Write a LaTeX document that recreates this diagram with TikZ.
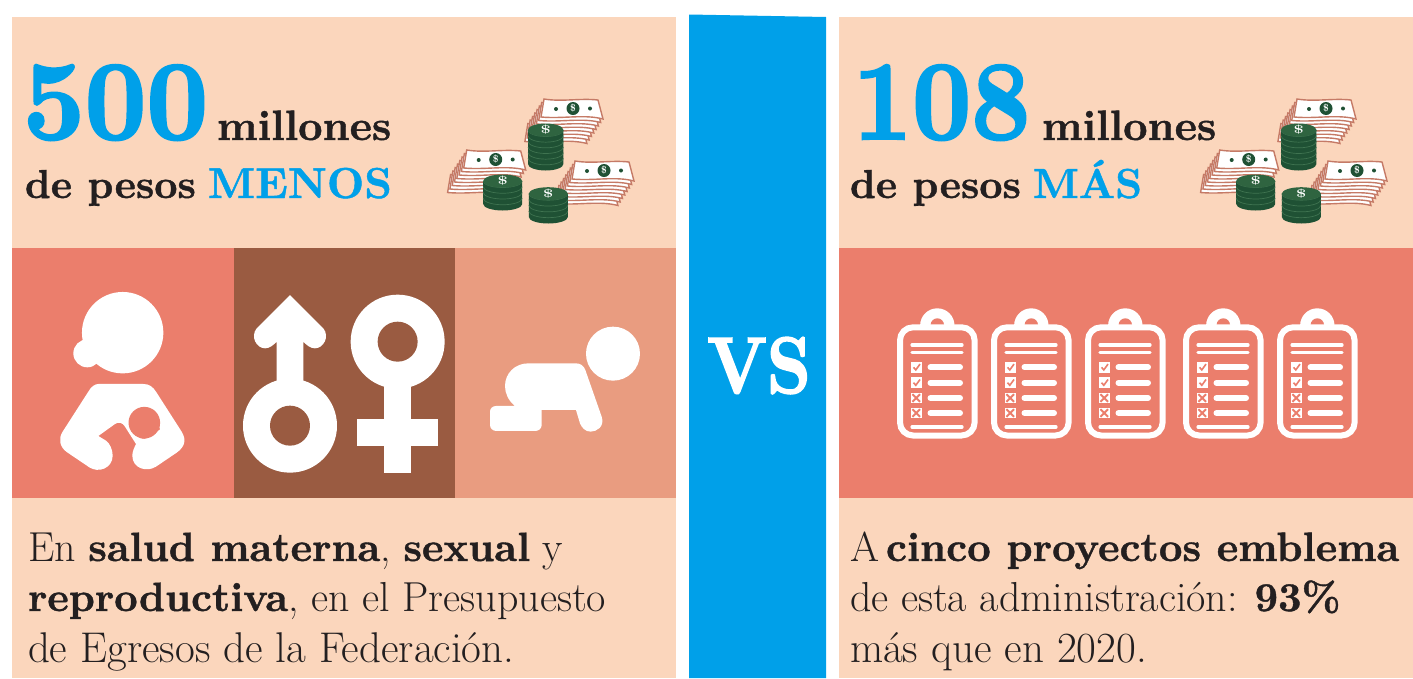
\documentclass[tikz,border=0pt]{standalone}
\usepackage{fontspec}
\newfontface\heavy{lmroman10-bold}[Extension=.otf,FakeBold=2.2]
\newfontface\semi{lmroman10-bold}[Extension=.otf,FakeBold=1.0]
\newcommand{\hb}[1]{{\fontsize{40.8}{42}\semi #1}}
\definecolor{peach}{HTML}{FBD6BC}
\definecolor{salmon}{HTML}{EB7E6C}
\definecolor{brownp}{HTML}{9A5B41}
\definecolor{tanp}{HTML}{E99C80}
\definecolor{bluep}{HTML}{00A0E9}
\definecolor{ink}{HTML}{231F20}
\definecolor{billline}{HTML}{C57A66}
\definecolor{gdark}{HTML}{1F5134}
\definecolor{gtop}{HTML}{2F6440}
\definecolor{gline}{HTML}{3F7350}
\tikzset{
  panel/.style={fill=peach,draw=none},
  bigtxt/.style={anchor=base west,inner sep=0pt,outer sep=0pt,text=bluep,font=\fontsize{113}{113}\heavy},
  headtxt/.style={anchor=base west,inner sep=0pt,outer sep=0pt,text=ink,font=\fontsize{42.4}{43}\semi},
  bodytxt/.style={anchor=base west,inner sep=0pt,outer sep=0pt,text=ink,font=\fontsize{41.9}{42}\selectfont},
  vstxt/.style={anchor=base,inner sep=0pt,outer sep=0pt,text=white,font=\fontsize{80}{80}\heavy},
}
\newcommand{\billstack}[2]{%
  \begin{scope}[shift={(#1,#2)}]
    \foreach \k in {7,6,...,0}{
      \begin{scope}[shift={(-2.3*\k,3.5*\k)}]
        \filldraw[fill=white,draw=billline,line width=1.4pt] (0,0) .. controls (18,3) and (36,-1) .. (54,1) -- (59,20) .. controls (40,15) and (20,20) .. (-3,18) -- cycle;
      \end{scope}
    }
    \fill[gdark] (29,9.5) ellipse (6.5 and 6.5);
    \fill[gdark] (12,10) circle (2);
    \fill[gdark] (46,9.5) circle (2);
    \node[inner sep=0pt,text=white,font=\fontsize{10}{10}\selectfont\bfseries] at (29,9.5) {\$};
  \end{scope}}
\newcommand{\coinstack}[5]{% cx topy rx bottomy layers
  \fill[gdark] (#1-#3,#2) -- (#1-#3,#4) arc[start angle=180,end angle=0,x radius=#3,y radius=6.5] -- (#1+#3,#2) -- cycle;
  \pgfmathsetmacro{\dy}{(#4-#2)/#5}
  \foreach \k in {1,...,#5}{
    \draw[gline,line width=.7pt] (#1-#3,#2+\k*\dy-\dy) arc[start angle=180,end angle=0,x radius=#3,y radius=6.5];
  }
  \fill[gtop] (#1,#2) ellipse (#3 and 6.5);
  \node[inner sep=0pt,text=white,font=\fontsize{14}{14}\selectfont\bfseries] at (#1,#2) {\scalebox{1.3}[.8]{\$}};
}
\newcommand{\money}[1]{%
  \begin{scope}[xshift=#1]
    \billstack{544}{99}
    \billstack{575}{161}
    \billstack{466.7}{150}
    \coinstack{545.7}{130}{17.7}{164}{6}
    \coinstack{502.7}{181}{19.5}{204}{4}
    \coinstack{548.3}{193.7}{19.5}{217}{4}
  \end{scope}}
\newcommand{\clipboard}[1]{%
  \begin{scope}[shift={(#1,0)}]
    \fill[white] (40.3,325.5) circle (17.2);
    \fill[salmon] (33.6,325) arc[start angle=180,end angle=360,radius=6.7] -- cycle;
    \filldraw[fill=salmon,draw=white,line width=6pt,rounded corners=13pt] (3,327.3) rectangle (77.6,435.5);
    \foreach \yy in {345,352.5,427}{
      \draw[white,line width=3.2pt,line cap=round] (15,\yy) -- (65,\yy);
    }
    \foreach \yy in {367.3,382.7,398,413}{
      \fill[white] (14,\yy-5.3) rectangle (24.7,\yy+5.3);
      \draw[white,line width=6pt,line cap=round] (33.5,\yy) -- (63,\yy);
    }
    \foreach \yy in {367.3,382.7}{
      \draw[salmon,line width=1.6pt] (16.5,\yy) -- (18.8,\yy+2.6) -- (23,\yy-3.2);
    }
    \foreach \yy in {398,413}{
      \draw[salmon,line width=2pt] (15.5,\yy-3.8) -- (23,\yy+3.8) (15.5,\yy+3.8) -- (23,\yy-3.8);
    }
  \end{scope}}
\begin{document}
\begin{tikzpicture}[x=1pt,y=-1pt]
\useasboundingbox (0,0) rectangle (1413,678);
\fill[white] (0,0) rectangle (1413,678);
% panels
\fill[panel] (12,17) rectangle (676,678);
\fill[panel] (839,17) rectangle (1413,678);
\fill[bluep] (689,14.5) -- (826,17) -- (826,678) -- (689,678) -- cycle;
\fill[salmon] (12,248) rectangle (234,498);
\fill[brownp] (234,248) rectangle (455,498);
\fill[tanp] (455,248) rectangle (676,498);
\fill[salmon] (839,248) rectangle (1413,498);
% headings
\node[bigtxt] (n500) at (23,139) {\scalebox{.95}[1]{500}};
\node[bigtxt] (n108) at (853,139) {\scalebox{.91}[1]{108}};
\node[headtxt] (mill1) at (217,140) {millones};
\node[headtxt] (pes1) at (25,198) {{\fontsize{40.4}{43}\semi de pesos}\hspace{12pt}{\fontsize{43.3}{43}\semi\textcolor{bluep}{MENOS}}};
\node[headtxt] (mill2) at (1042,140) {millones};
\node[headtxt] (pes2) at (850,198) {{\fontsize{40.4}{43}\semi de pesos}\hspace{12pt}{\fontsize{42}{43}\semi\textcolor{bluep}{MÁS}}};
\node[vstxt] (vs) at (759,393) {\scalebox{.86}[1]{VS}};
% body text
\node[bodytxt] (l1) at (28,561) {En \hb{salud materna}, \hb{sexual} y};
\node[bodytxt] (l2) at (28,611) {\hb{reproductiva}, {\fontsize{41.9}{42}\selectfont en el Presupuesto}};
\node[bodytxt] (l3) at (28,662) {\fontsize{43}{42}\selectfont de Egresos de la Federación.};
\node[bodytxt] (r1) at (850,561) {A\hspace{7pt}{\fontsize{41}{42}\semi cinco proyectos emblema}};
\node[bodytxt] (r2) at (850,611) {de esta administración: \hb{93\%}};
\node[bodytxt] (r3) at (850,662) {\fontsize{43}{42}\selectfont más que en 2020.};
% money
\money{0pt}
\money{753pt}
% clipboards
\clipboard{897}\clipboard{991}\clipboard{1085}\clipboard{1183}\clipboard{1277}
% mother
\begin{scope}[shift={(30,270)},x=.3333pt,y=-.3333pt]
  \fill[white] (278,188) circle (40.7pt);
  \fill[white] (172,250) circle (14pt);
  \fill[white] (205,342) -- (340,342) .. controls (358,342) and (368,350) .. (378,365) -- (455,485) .. controls (470,510) and (465,530) .. (440,548) -- (378,590) .. controls (350,608) and (307,595) .. (307,557) .. controls (307,545) and (312,535) .. (318,522) -- (285,470) .. controls (278,457) and (265,455) .. (255,462) -- (205,498) -- (228,512) .. controls (240,520) and (248,540) .. (248,557) .. controls (248,595) and (205,610) .. (178,592) -- (110,546) .. controls (88,530) and (85,505) .. (98,485) -- (175,365) .. controls (183,350) and (195,342) .. (205,342) -- cycle;
  \fill[salmon] (343,458) circle (15.8pt);
  \fill[salmon] (372,420) -- (390,478) -- (352,504) .. controls (340,510) and (325,505) .. (312,490) -- cycle;
\end{scope}
% gender
\begin{scope}[shift={(235,285)},x=.3333pt,y=-.3333pt]
  \fill[white] (165,422) circle (47pt);
  \fill[brownp] (165,422) circle (20pt);
  \fill[white] (165,30) -- (265,130) .. controls (285,155) and (265,190) .. (240,190) .. controls (225,190) and (215,180) .. (205,170) -- (205,295) -- (125,295) -- (125,170) .. controls (115,180) and (105,190) .. (90,190) .. controls (65,190) and (45,155) .. (65,130) -- cycle;
  \fill[white] (488,170) circle (47pt);
  \fill[brownp] (488,170) circle (20pt);
  \fill[white] (448,300) rectangle (528,563);
  \fill[white] (367,403) rectangle (609,483);
\end{scope}
% baby
\begin{scope}[shift={(470,310)},x=.3333pt,y=-.3333pt]
  \fill[white] (429,131) circle (27pt);
  \fill[white] (175,160) -- (318,160) .. controls (332,160) and (342,168) .. (346,180) -- (395,320) .. controls (405,350) and (380,365) .. (362,365) .. controls (345,365) and (335,352) .. (330,340) -- (318,300) -- (215,300) -- (215,345) .. controls (215,356) and (206,363) .. (195,363) -- (80,363) .. controls (68,363) and (60,355) .. (60,345) -- (60,305) .. controls (60,295) and (68,288) .. (78,288) -- (135,288) .. controls (115,272) and (105,250) .. (105,228) .. controls (105,190) and (135,160) .. (175,160) -- cycle;
\end{scope}
\end{tikzpicture}
\end{document}
